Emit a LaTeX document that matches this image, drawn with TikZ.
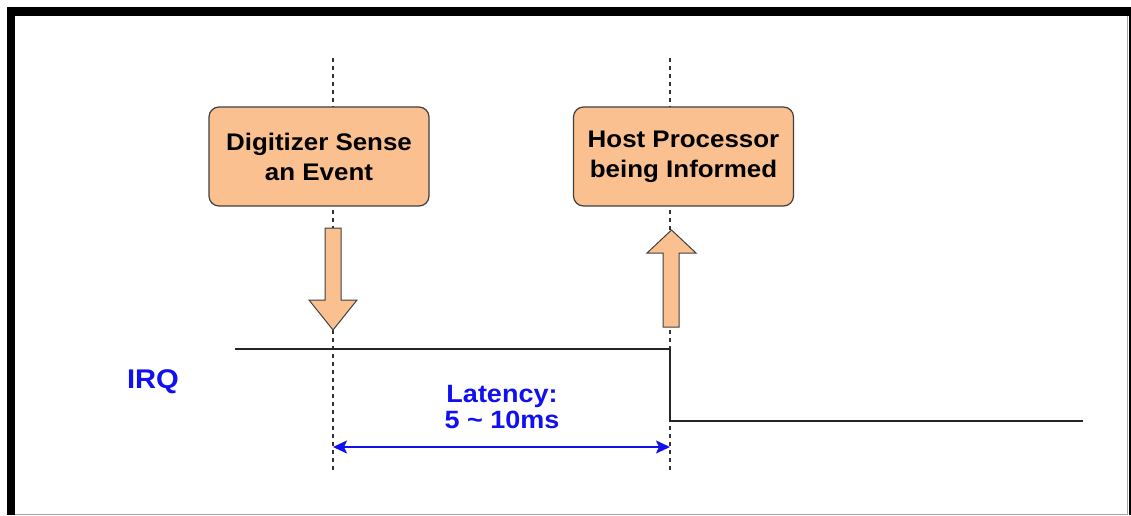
\documentclass[tikz,border=0pt]{standalone}
\usepackage{fontspec}
\setmainfont{Liberation Sans}
\newfontfamily\widesans[FakeStretch=1.08]{Liberation Sans}
\usetikzlibrary{arrows.meta}
\definecolor{boxfill}{HTML}{FAC090}
\definecolor{boxline}{HTML}{404040}
\definecolor{irqblue}{HTML}{1010F0}
\tikzset{
  eventbox/.style={draw=boxline, line width=1.2pt, fill=boxfill, rounded corners=10pt,
    minimum width=220pt, minimum height=99pt, align=center,
    font=\widesans\fontsize{24}{30}\selectfont\bfseries, inner sep=0pt},
  blockarrow/.style={draw=boxline, line width=1pt, fill=boxfill, line join=miter},
  timeline/.style={draw=black!80, line width=1.6pt, dash pattern=on 4pt off 4pt},
  signal/.style={draw=black!85, line width=1.8pt},
  bluetext/.style={text=irqblue, font=\widesans\fontsize{25}{26}\selectfont\bfseries, align=center, inner sep=0pt},
  latency/.style={draw=irqblue, line width=1.8pt, {Stealth[length=14pt,width=13pt,inset=3pt]}-{Stealth[length=14pt,width=13pt,inset=3pt]}}
}
\begin{document}
\begin{tikzpicture}[x=1pt,y=-1pt]
  \useasboundingbox (0,0) rectangle (1131,515);
  % frame
  \fill[white] (0,0) rectangle (1131,515);
  \draw[gray!70, line width=1pt] (1127.5,12) -- (1127.5,514) -- (11,514);
  \fill[black] (1128.5,7) rectangle (1131,515);
  \fill[black] (7,7) rectangle (1131,16);
  \fill[black] (7,7) rectangle (15,515);

  % time markers
  \coordinate (t1top) at (333,58);
  \coordinate (t1bot) at (333,470);
  \coordinate (t2top) at (670,58);
  \coordinate (t2bot) at (670,470);
  \draw[timeline] (t1top) -- (t1bot);
  \draw[timeline] (t2top) -- (t2bot);

  % event boxes
  \node[eventbox] (sense) at (319,156.5) {Digitizer Sense\\an Event};
  \node[eventbox] (host) at (683.5,156.5) {Host Processor\\being Informed};

  % block arrows
  \draw[blockarrow] (325,228) -- (341,228) -- (341,300) -- (357,300) -- (333,330)
    -- (309,300) -- (325,300) -- cycle;
  \draw[blockarrow] (663,327) -- (679,327) -- (679,253) -- (696,253) -- (671.5,230)
    -- (647,253) -- (663,253) -- cycle;

  % IRQ signal
  \node[bluetext, font=\widesans\fontsize{27}{28}\selectfont\bfseries] (irq) at (153,382) {IRQ};
  \coordinate (sstart) at (235,349);
  \coordinate (sedge) at (670,349);
  \coordinate (slow) at (670,421);
  \coordinate (send) at (1083,421);
  \draw[signal] (sstart) -- (sedge) -- (slow) -- (send);

  % latency
  \node[bluetext] (lat) at (502,407) {Latency:\\5 \char"007E\ 10ms};
  \coordinate (la) at (333,447);
  \coordinate (lb) at (670,447);
  \draw[latency] (la) -- (lb);
\end{tikzpicture}
\end{document}
